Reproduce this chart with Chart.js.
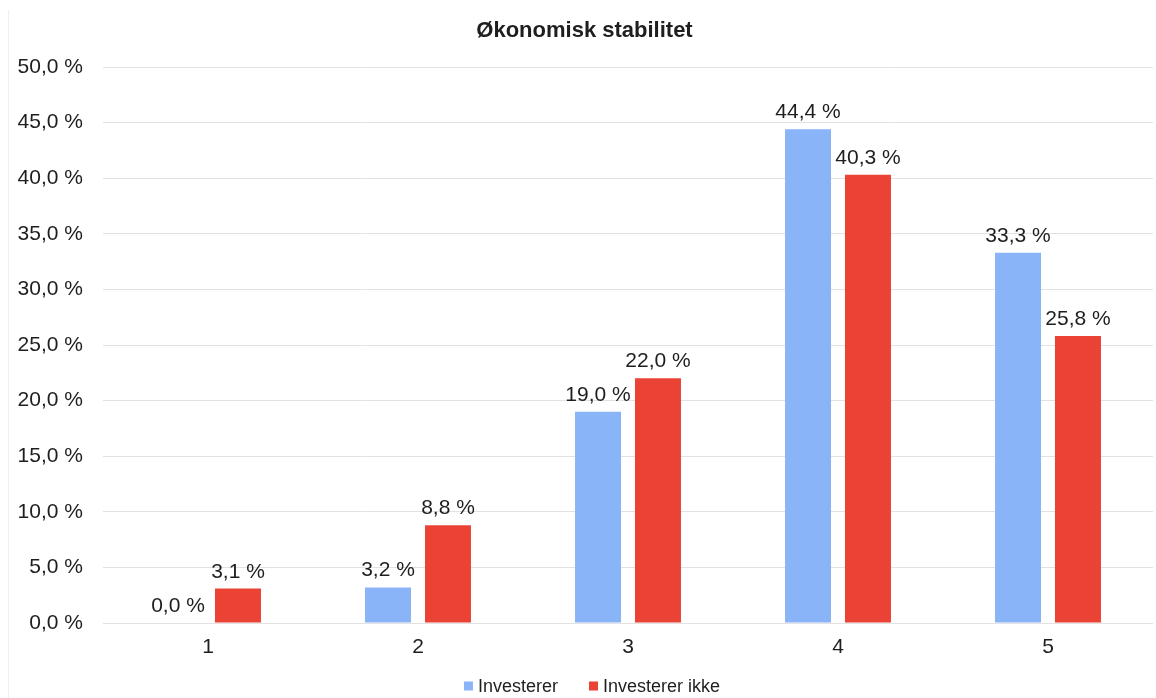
<!DOCTYPE html>
<html lang="no">
<head>
<meta charset="utf-8">
<title>Økonomisk stabilitet</title>
<script src="https://cdn.jsdelivr.net/npm/chart.js@4.4.0/dist/chart.umd.min.js"></script>
<style>
  html, body { margin: 0; padding: 0; background: #ffffff; }
  #wrap { position: relative; width: 1156px; height: 698px; }
  #wrap::before {
    content: ""; position: absolute; left: 8px; top: 10px; bottom: 0;
    border-left: 1px solid #efefef;
  }
  canvas { display: block; }
</style>
</head>
<body>
<div id="wrap"><canvas id="chart" width="1156" height="698"></canvas></div>
<script>
// Survey answers on a 1–5 scale, share of respondents in each group (%)
const categories = ['1', '2', '3', '4', '5'];
const investerer = [0.0, 3.2, 19.0, 44.4, 33.3];
const investererIkke = [3.1, 8.8, 22.0, 40.3, 25.8];
const seriesNames = ['Investerer', 'Investerer ikke'];
const seriesColors = ['#8ab4f8', '#ea4335'];
const yTicks = { min: 0, max: 50, step: 5 };

const FONT = "'Liberation Sans', Arial, Helvetica, sans-serif";
const TEXT = '#1e1e1e';

const pct = v => v.toFixed(1).replace('.', ',') + ' %';

// Value label above each bar
const valueLabels = {
  id: 'valueLabels',
  afterDatasetsDraw(chart) {
    const ctx = chart.ctx;
    ctx.save();
    ctx.font = '21px ' + FONT;
    ctx.fillStyle = TEXT;
    ctx.textAlign = 'center';
    ctx.textBaseline = 'alphabetic';
    chart.data.datasets.forEach((ds, i) => {
      chart.getDatasetMeta(i).data.forEach((bar, j) => {
        ctx.fillText(pct(ds.data[j]), bar.x, bar.y - 11);
      });
    });
    ctx.restore();
  }
};

// Compact legend with small square swatches under the axis
const bottomLegend = {
  id: 'bottomLegend',
  afterDraw(chart) {
    const ctx = chart.ctx;
    const box = 9, gap = 5, itemGap = 31, cy = 686, cx = 592;
    ctx.save();
    ctx.font = '18px ' + FONT;
    ctx.textBaseline = 'middle';
    ctx.textAlign = 'left';
    const items = chart.data.datasets.map(ds => ({
      label: ds.label, color: ds.backgroundColor, w: ctx.measureText(ds.label).width
    }));
    let total = 0;
    items.forEach((it, k) => { total += box + gap + it.w + (k ? itemGap : 0); });
    let x = cx - total / 2;
    items.forEach(it => {
      ctx.fillStyle = it.color;
      ctx.fillRect(x, cy - box / 2, box, box);
      ctx.fillStyle = TEXT;
      ctx.fillText(it.label, x + box + gap, cy + 1);
      x += box + gap + it.w + itemGap;
    });
    ctx.restore();
  }
};

new Chart(document.getElementById('chart'), {
  type: 'bar',
  data: {
    labels: categories,
    datasets: [
      { label: seriesNames[0], data: investerer, backgroundColor: seriesColors[0] },
      { label: seriesNames[1], data: investererIkke, backgroundColor: seriesColors[1] }
    ]
  },
  options: {
    responsive: false,
    devicePixelRatio: 1,
    animation: false,
    layout: { padding: { left: 16, right: 3, top: 6, bottom: 0 } },
    datasets: { bar: { categoryPercentage: 0.571, barPercentage: 0.767 } },
    plugins: {
      legend: { display: false },
      tooltip: { enabled: false },
      title: {
        display: true,
        text: 'Økonomisk stabilitet',
        color: TEXT,
        font: { family: FONT, size: 22, weight: 'bold' },
        padding: { top: 12, bottom: 22.6 }
      }
    },
    scales: {
      x: {
        grid: { display: false, drawTicks: false },
        border: { display: false },
        ticks: { color: TEXT, font: { family: FONT, size: 21 }, padding: 12 },
        afterFit(scale) { scale.height = 75; }
      },
      y: {
        min: yTicks.min,
        max: yTicks.max,
        grid: { color: '#e2e2e2', lineWidth: 1, drawTicks: false },
        border: { display: false },
        ticks: {
          stepSize: yTicks.step,
          color: TEXT,
          font: { family: FONT, size: 21 },
          padding: 20,
          callback: v => pct(v)
        },
        afterFit(scale) { scale.width = 87; }
      }
    }
  },
  plugins: [valueLabels, bottomLegend]
});
</script>
</body>
</html>
